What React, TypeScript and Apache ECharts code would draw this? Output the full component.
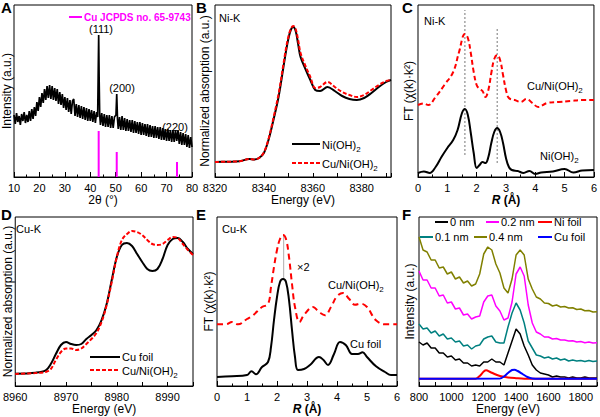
import React, { useEffect, useRef } from "react";
import * as echarts from "echarts";

const FONT = '"Liberation Sans", Arial, Helvetica, sans-serif';

// ---------- A: XRD ----------
const xrdAngle = [
  10, 10.5, 11, 11.5, 12, 12.5, 13, 13.5, 14, 14.5, 15, 15.5, 16, 16.5, 17, 17.5, 18, 18.5, 19, 19.5,
  20, 20.5, 21, 21.5, 22, 22.5, 23, 23.5, 24, 24.5, 25, 25.5, 26, 26.5, 27, 27.5, 28, 28.5, 29, 29.5,
  30, 30.5, 31, 31.5, 32, 32.5, 33, 33.5, 34, 34.5, 35, 35.5, 36, 36.5, 37, 37.5, 38, 38.5, 39, 39.5,
  40, 40.5, 41, 41.5, 42, 42.5, 42.9, 43.1, 43.3, 43.5, 43.7,
  44, 44.5, 45, 45.5, 46, 46.5, 47, 47.5, 48, 48.5, 49, 49.5, 50.1, 50.4, 50.7,
  51, 51.5, 52, 52.5, 53, 53.5, 54, 54.5, 55, 55.5, 56, 56.5, 57, 57.5, 58, 58.5, 59, 59.5, 60, 60.5,
  61, 61.5, 62, 62.5, 63, 63.5, 64, 64.5, 65, 65.5, 66, 66.5, 67, 67.5, 68, 68.5, 69, 69.5, 70, 70.5,
  71, 71.5, 72, 72.5, 73, 73.5, 74, 74.5, 75, 75.5, 76, 76.5, 77, 77.5, 78, 78.5, 79, 79.5, 80,
];
const xrdIntensity = [
  62, 53, 64, 55, 61, 52, 63, 56, 65, 54, 62, 55, 66, 56, 68, 58, 70, 61, 75, 66,
  80, 70, 84, 74, 88, 77, 91, 79, 92, 78, 91, 77, 89, 76, 88, 73, 85, 72, 83, 69,
  80, 67, 79, 65, 77, 63, 76, 78, 61, 73, 60, 72, 59, 71, 58, 70, 57, 69, 56, 68,
  56, 67, 55, 66, 54, 65, 60, 100, 142, 95, 62,
  52, 64, 51, 63, 50, 62, 50, 62, 49, 61, 49, 60, 62, 83, 58,
  48, 60, 47, 61, 47, 59, 46, 58, 46, 57, 45, 57, 44, 56, 44, 55, 43, 55, 42, 54,
  42, 53, 41, 53, 40, 52, 40, 51, 39, 51, 39, 50, 38, 50, 37, 49, 37, 48, 36, 48,
  36, 47, 35, 47, 35, 47, 36, 47, 33, 45, 32, 44, 32, 43, 30, 42, 29, 40, 30,
];
const jcpdsAngle = [43.3, 50.4, 74.1];
const jcpdsHeight = [46, 25, 15];
const xrdPeakLabels = ["(111)", "(200)", "(220)"];

// ---------- B: Ni-K XANES ----------
const niKEnergy = [
  8320, 8325, 8330, 8334, 8336, 8338, 8340, 8342, 8344, 8346, 8348, 8349, 8350, 8351, 8352, 8353,
  8354, 8355, 8357, 8359, 8361, 8363, 8366, 8369, 8372, 8375, 8378, 8381, 8384, 8387, 8390, 8392,
];
const niKNiOH2 = [
  15, 15.3, 15.7, 18, 17.5, 19, 24, 38, 58, 80, 110, 125, 138, 147, 150, 146,
  133, 120, 108, 97, 87, 86, 90, 86, 81, 78, 77, 79, 84, 90, 95, 97,
];
const niKCuNiOH2 = [
  15, 15.3, 15.7, 18, 17.5, 19, 24.5, 39, 60, 83, 113, 128, 140, 148, 151, 148,
  137, 124, 111, 100, 89, 90, 95, 90, 85, 82, 80, 82, 87, 92, 96, 97,
];

// ---------- C: Ni-K FT ----------
const cNiOH2R = [0, 0.2, 0.4, 0.6, 0.8, 1.0, 1.2, 1.35, 1.5, 1.6, 1.7, 1.8, 1.9, 2.0, 2.1, 2.2, 2.3, 2.4, 2.5, 2.6, 2.7, 2.8, 2.9, 3.0, 3.1, 3.2, 3.4, 3.6, 3.8, 4.0, 4.2, 4.6, 5.0, 5.3, 5.6, 6.0];
const cNiOH2FT = [4, 5.5, 4, 10, 20, 29, 37, 47, 64, 68, 62, 44, 24, 9, 12, 15, 14, 20, 34, 45, 49, 45, 34, 19, 10, 7, 6, 4, 6, 3, 4.5, 5.5, 8, 4.5, 6.5, 7];
const cCuNiR = [0, 0.2, 0.35, 0.6, 0.9, 1.2, 1.4, 1.6, 1.7, 1.8, 1.9, 2.0, 2.1, 2.2, 2.3, 2.4, 2.5, 2.6, 2.7, 2.8, 2.9, 3.0, 3.1, 3.3, 3.5, 3.7, 3.9, 4.1, 4.4, 4.8, 5.2, 5.6, 6.0];
const cCuNiFT = [72, 73.5, 72, 80, 92, 105, 125, 143, 139, 124, 105, 92, 88, 86, 80, 87, 104, 118, 122, 117, 102, 87, 79, 77, 75, 78, 74, 70, 74, 75, 76, 77, 77];
const cGuideR = [1.6, 2.7];
const cGuideLow = [22, 14];
const cGuideHigh = [167, 149];

// ---------- D: Cu-K XANES ----------
const cuKEnergy = [8960, 8964, 8966, 8967, 8968, 8969, 8970, 8971, 8972, 8973, 8974, 8975, 8976, 8977, 8978, 8979, 8980, 8981, 8982, 8983, 8984, 8985, 8986, 8987, 8988, 8989, 8990, 8991, 8992, 8993, 8994, 8995];
const cuKFoil = [12.3, 13.3, 15.7, 22, 32, 41, 44, 42, 41, 42, 47, 51, 56, 66, 82, 106, 129, 141, 143, 140, 132, 124, 117, 115, 117, 127, 141, 147, 148, 144, 137, 132];
const cuKCuNiOH2 = [12, 13, 14, 17, 26, 34, 37.5, 37.5, 36, 37.5, 42, 47, 53, 64, 81, 104, 129, 146, 152, 155, 154, 151, 146, 142, 141, 142, 146, 149, 148, 142, 136, 131];

// ---------- E: Cu-K FT ----------
const eFoilR = [0, 0.5, 1.0, 1.15, 1.3, 1.5, 1.7, 1.8, 1.9, 2.0, 2.1, 2.2, 2.3, 2.4, 2.5, 2.6, 2.7, 2.9, 3.1, 3.4, 3.55, 3.7, 3.9, 4.1, 4.3, 4.5, 4.7, 4.85, 5.0, 5.3, 5.6, 5.8, 6.0];
const eFoilFT = [9, 9.7, 11, 14.7, 11.7, 19, 24, 39, 66, 89, 104, 107, 104, 86, 56, 29, 16, 17, 21, 29, 26, 21, 32, 44, 40.7, 32, 32, 33.7, 29, 19.7, 14, 11, 11];
const eCuNiR = [0, 0.3, 0.5, 0.7, 1.0, 1.2, 1.5, 1.7, 1.8, 1.9, 2.0, 2.1, 2.2, 2.3, 2.4, 2.5, 2.6, 2.75, 2.9, 3.2, 3.4, 3.6, 3.8, 4.0, 4.2, 4.4, 4.6, 4.8, 5.0, 5.3, 5.6, 6.0];
const eCuNiFT = [61.7, 61.7, 64, 61.7, 67, 70.7, 79, 82, 99, 119, 136, 147, 151, 147, 129, 102, 79, 64, 71, 79, 74, 70.7, 79, 89.7, 93, 87.3, 81.3, 82.3, 79, 65.7, 61.7, 61.7];
const eGuideR = [2.22, 2.22];
const eGuideFT = [107, 151];

// ---------- F: spectra ----------
const fEnergy = [800, 825, 850, 875, 900, 925, 950, 975, 1000, 1025, 1050, 1075, 1100, 1125, 1150, 1175, 1200, 1225, 1250, 1275, 1300, 1325, 1350, 1375, 1400, 1425, 1450, 1475, 1500, 1525, 1550, 1575, 1600, 1625, 1650, 1675, 1700, 1725, 1750, 1775, 1800, 1825, 1850, 1875, 1900];
const f0nm = [44, 41, 43, 38, 38, 33, 33, 29, 30, 26, 27, 23, 23, 20, 21, 20, 24, 24, 27, 24, 24, 21, 33, 45, 57, 52, 40, 31, 21, 16, 13, 12, 11, 9, 10, 9, 9, 8, 9, 8, 8, 9, 8, 8, 8];
const f01nm = [62, 57, 58, 53, 55, 50, 52, 47, 48, 44, 45, 40, 41, 37, 40, 41, 47, 49, 50, 44, 43, 43, 59, 73, 83, 76, 63, 45, 38, 31, 30, 28, 29, 27, 28, 26, 27, 25, 26, 25, 25.5, 24.5, 25.5, 24.5, 25];
const f02nm = [115, 106, 106, 98, 98, 90, 91, 83, 84, 77, 78, 71, 72, 67, 69, 70, 84, 90, 91, 80, 75, 66, 68, 84, 112, 119, 110, 81, 63, 54, 52, 49, 49, 47, 47.5, 46, 46, 45, 45.3, 44, 44.5, 43.3, 44, 43, 43.3];
const f04nm = [149, 136, 134, 126, 126, 118, 119, 112, 114, 107, 109, 103, 105, 100, 102, 112, 132, 139, 136, 122, 113, 98, 93, 107, 131, 136, 131, 107, 97, 89, 87, 83, 82.5, 80, 81, 79, 79.5, 78, 78.3, 76.5, 77, 75.2, 75.5, 74, 74.3];
const fNiFoilE = [800, 1150, 1175, 1200, 1215, 1240, 1275, 1300, 1350, 1400, 1450, 1900];
const fNiFoilI = [7.3, 7.3, 10, 14.5, 15.7, 14, 11.5, 10, 8.5, 7.8, 7.3, 7.3];
const fCuFoilE = [800, 1300, 1325, 1350, 1375, 1390, 1410, 1440, 1470, 1500, 1550, 1900];
const fCuFoilI = [7.3, 7.5, 9.5, 13, 16, 16.3, 15, 12, 9, 7.5, 7.3, 7.3];

const zip = (xs: number[], ys: number[]) => xs.map((x, i) => [x, ys[i]]);

const GRIDS = [
  { left: 13, top: 5, width: 179, height: 172 },
  { left: 215, top: 5, width: 176, height: 172 },
  { left: 418, top: 5, width: 177, height: 172 },
  { left: 13, top: 217, width: 180, height: 169 },
  { left: 217, top: 217, width: 180, height: 169 },
  { left: 419, top: 217, width: 179, height: 169 },
];

const MAGENTA = "#ff00ff";
const RED = "#ff0000";

function makeX(i: number, min: number, max: number, interval: number, name: string, opts: any = {}) {
  return {
    gridIndex: i,
    type: "value",
    min,
    max,
    interval,
    name,
    nameLocation: "middle",
    nameGap: 14,
    nameTextStyle: { fontSize: 12, color: "#000", fontFamily: FONT, ...(opts.nameTextStyle || {}) },
    axisLine: { show: true, lineStyle: { color: "#000", width: 1 } },
    axisTick: { show: true, inside: true, length: opts.tickLen || 4, lineStyle: { color: "#000", width: 1 } },
    minorTick: { show: !!opts.minor, splitNumber: 2, length: 2.5, lineStyle: { color: "#000", width: 1 } },
    axisLabel: {
      show: true,
      fontSize: 11,
      color: "#000",
      fontFamily: FONT,
      margin: 5,
      formatter: opts.labelEvery ? (v: number) => (Math.abs(v % opts.labelEvery) < 1e-6 ? String(v) : "") : undefined,
    },
    splitLine: { show: false },
    minorSplitLine: { show: false },
  };
}

function makeY(i: number, name: string, gap: number) {
  return {
    gridIndex: i,
    type: "value",
    min: 0,
    max: GRIDS[i].height,
    name,
    nameLocation: "middle",
    nameGap: gap,
    nameRotate: 90,
    nameTextStyle: { fontSize: 12, color: "#000", fontFamily: FONT },
    axisLine: { show: false },
    axisTick: { show: false },
    axisLabel: { show: false },
    splitLine: { show: false },
  };
}

function line(i: number, data: any[], color: string, width: number, type: any = "solid", smooth: any = false, name = "") {
  return {
    type: "line",
    name,
    xAxisIndex: i,
    yAxisIndex: i,
    data,
    symbol: "none",
    showSymbol: false,
    smooth,
    silent: true,
    lineStyle: { color, width, type },
  };
}

const RICH = {
  n: { fontSize: 11, lineHeight: 16, verticalAlign: "middle", fontFamily: FONT, fill: "#000" },
  s: { fontSize: 8, lineHeight: 8, verticalAlign: "bottom", fontFamily: FONT, fill: "#000" },
};

function txt(x: number, y: number, text: string, extra: any = {}) {
  return {
    type: "text",
    x,
    y,
    silent: true,
    style: {
      text,
      fill: "#000",
      fontSize: 11,
      fontFamily: FONT,
      textAlign: "left",
      textVerticalAlign: "middle",
      rich: RICH,
      ...extra,
    },
  };
}

function seg(x1: number, y1: number, x2: number, y2: number, stroke: string, dash?: number[]) {
  return {
    type: "line",
    silent: true,
    shape: { x1, y1, x2, y2 },
    style: { stroke, lineWidth: 2, lineDash: dash },
  };
}

function letter(x: number, y: number, t: string) {
  return txt(x, y, t, { fontSize: 15, fontWeight: "bold", textVerticalAlign: "top" });
}

export default function App() {
  const ref = useRef<HTMLDivElement>(null);
  useEffect(() => {
    if (!ref.current) return;
    const chart = echarts.init(ref.current, undefined, { renderer: "svg" });
    const ftName = "FT (χ(k)·k²)";
    const rName = {
      fontWeight: "bold",
      rich: { i: { fontStyle: "italic", fontWeight: "bold", fontSize: 12, fontFamily: FONT } },
    };
    const niOH2 = "{n|Ni(OH)}{s|2}";
    const cuNiOH2 = "{n|Cu/Ni(OH)}{s|2}";
    const option: any = {
      animation: false,
      textStyle: { fontFamily: FONT, color: "#000" },
      grid: GRIDS.map((g) => ({ ...g, show: true, borderColor: "#000", borderWidth: 1, backgroundColor: "transparent" })),
      xAxis: [
        makeX(0, 10, 80, 10, "2θ (°)", { minor: true, tickLen: 5 }),
        makeX(1, 8320, 8392, 10, "Energy (eV)", { labelEvery: 20 }),
        makeX(2, 0, 6, 1, "{i|R} (Å)", { minor: true, tickLen: 5, nameTextStyle: rName }),
        makeX(3, 8960, 8995, 5, "Energy (eV)", { labelEvery: 10 }),
        makeX(4, 0, 6, 1, "{i|R} (Å)", { minor: true, tickLen: 5, nameTextStyle: rName }),
        makeX(5, 800, 1900, 100, "Energy (eV)", { labelEvery: 200 }),
      ],
      yAxis: [
        makeY(0, "Intensity (a.u.)", 1),
        makeY(1, "Normalized absorption (a.u.)", 4),
        makeY(2, ftName, 3),
        makeY(3, "Normalized absorption (a.u.)", 1),
        makeY(4, ftName, 2),
        makeY(5, "Intensity (a.u.)", 3),
      ],
      series: [
        // A
        line(0, zip(xrdAngle, xrdIntensity), "#000", 1.7, "solid", false, "XRD"),
        ...jcpdsAngle.map((a, k) => line(0, [[a, 0], [a, jcpdsHeight[k]]], MAGENTA, 2, "solid", false, "Cu JCPDS no. 65-9743")),
        // B
        line(1, zip(niKEnergy, niKNiOH2), "#000", 2, "solid", 0.35, "Ni(OH)2"),
        line(1, zip(niKEnergy, niKCuNiOH2), RED, 2, [4, 2], 0.35, "Cu/Ni(OH)2"),
        // C
        ...cGuideR.map((r, k) => line(2, [[r, cGuideLow[k]], [r, cGuideHigh[k]]], "#777", 1, [2, 2])),
        line(2, zip(cNiOH2R, cNiOH2FT), "#000", 2, "solid", 0.4, "Ni(OH)2"),
        line(2, zip(cCuNiR, cCuNiFT), RED, 2, [5, 3], 0.4, "Cu/Ni(OH)2"),
        // D
        line(3, zip(cuKEnergy, cuKFoil), "#000", 2, "solid", 0.35, "Cu foil"),
        line(3, zip(cuKEnergy, cuKCuNiOH2), RED, 2, [4, 2], 0.35, "Cu/Ni(OH)2"),
        // E
        line(4, zip(eGuideR, eGuideFT), "#bbbbbb", 1.2),
        line(4, zip(eFoilR, eFoilFT), "#000", 2, "solid", 0.4, "Cu foil"),
        line(4, zip(eCuNiR, eCuNiFT), RED, 2, [6, 4], 0.4, "Cu/Ni(OH)2"),
        // F
        line(5, zip(fEnergy, f04nm), "#808000", 1.5, "solid", false, "0.4 nm"),
        line(5, zip(fEnergy, f02nm), MAGENTA, 1.5, "solid", false, "0.2 nm"),
        line(5, zip(fEnergy, f01nm), "#008080", 1.5, "solid", false, "0.1 nm"),
        line(5, zip(fEnergy, f0nm), "#000", 1.5, "solid", false, "0 nm"),
        line(5, zip(fNiFoilE, fNiFoilI), RED, 2, "solid", 0.3, "Ni foil"),
        line(5, zip(fCuFoilE, fCuFoilI), "#0000ff", 2, "solid", 0.3, "Cu foil"),
      ],
      graphic: [
        letter(1, 0, "A"),
        letter(196, 0, "B"),
        letter(402, 0, "C"),
        letter(1, 207, "D"),
        letter(196, 207, "E"),
        letter(402, 207, "F"),
        // A
        seg(69, 17, 82, 17, MAGENTA),
        txt(84, 17, "Cu JCPDS no. 65-9743", { fill: MAGENTA, fontWeight: "bold", fontSize: 10 }),
        txt(101, 29, xrdPeakLabels[0], { textAlign: "center" }),
        txt(122, 88, xrdPeakLabels[1], { textAlign: "center" }),
        txt(175, 127, xrdPeakLabels[2], { textAlign: "center" }),
        // B
        txt(219, 18, "Ni-K"),
        seg(292, 144, 320, 144, "#000"),
        txt(322, 145, niOH2),
        seg(292, 163, 320, 163, RED, [4, 2]),
        txt(322, 164, cuNiOH2),
        // C
        txt(424, 21, "Ni-K"),
        txt(527, 86, cuNiOH2),
        txt(540, 156, niOH2),
        // D
        txt(16, 229, "Cu-K"),
        seg(90, 357, 120, 357, "#000"),
        txt(122, 357, "Cu foil"),
        seg(90, 370, 120, 370, RED, [4, 2]),
        txt(122, 371, cuNiOH2),
        // E
        txt(222, 229, "Cu-K"),
        txt(297, 267, "×2"),
        txt(328, 285, cuNiOH2),
        txt(350, 344, "Cu foil"),
        // F legend
        seg(435, 222, 448, 222, "#000"),
        txt(450, 222, "0 nm"),
        seg(486, 222, 499, 222, MAGENTA),
        txt(501, 222, "0.2 nm"),
        seg(538, 222, 552, 222, RED),
        txt(554, 222, "Ni foil"),
        seg(420, 237, 433, 237, "#008080"),
        txt(435, 237, "0.1 nm"),
        seg(474, 237, 487, 237, "#808000"),
        txt(489, 237, "0.4 nm"),
        seg(538, 237, 552, 237, "#0000ff"),
        txt(554, 237, "Cu foil"),
      ],
    };
    chart.setOption(option);
    return () => chart.dispose();
  }, []);
  return (
    <div
      ref={ref}
      style={{ position: "fixed", left: 0, top: 0, width: 600, height: 417, background: "#fff" }}
    />
  );
}
